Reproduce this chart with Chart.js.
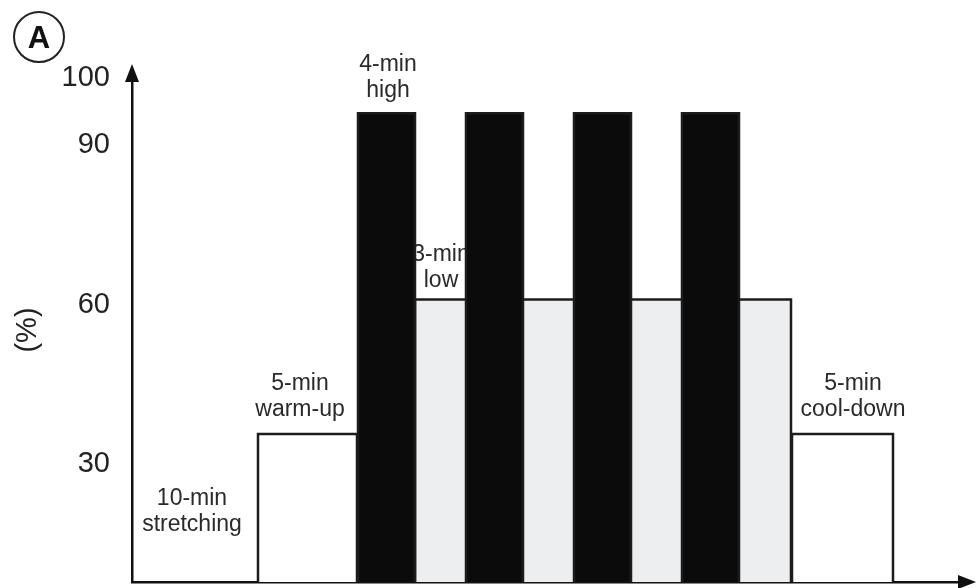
<!DOCTYPE html>
<html>
<head>
<meta charset="utf-8">
<script src="https://cdn.jsdelivr.net/npm/chart.js@4/dist/chart.umd.min.js"></script>
<style>
    html, body { margin: 0; padding: 0; background: #fff; overflow: hidden; }
    canvas { display: block; }
</style>
</head>
<body>
<canvas id="chart" width="976" height="588"></canvas>
<script>
// Schematic exercise protocol: x in arbitrary time units, y in %
const yMin = 7.9;
const yMax = 102.6;
const xMax = 83;

// tick values on the y axis (the top one sits at the arrow, labelled 100)
const yTickValues = [30, 60, 90, 102.6];
const yTickLabels = ['30', '60', '90', '100'];

const warmUpX = [12.6, 22.5];
const warmUpLevel = 35.7;

const highStarts = [22.6, 33.4, 44.2, 55.0];
const highEnds = [28.3, 39.1, 49.9, 60.7];
const highLevel = 96;

const lowX = [28.3, 65.9];
const lowLevel = 61;

const coolDownX = [66.0, 76.1];
const coolDownLevel = 35.7;

// phase labels: text lines and centre in data units
const phaseLabels = [
    { lines: ['10-min', 'stretching'], x: 6.0, y: 21.1 },
    { lines: ['5-min', 'warm-up'], x: 16.8, y: 42.8 },
    { lines: ['4-min', 'high'], x: 25.6, y: 102.7 },
    { lines: ['3-min', 'low'], x: 30.9, y: 67.0 },
    { lines: ['5-min', 'cool-down'], x: 72.1, y: 42.8 }
];

const FONT = "'Liberation Sans', Arial, sans-serif";

// rectangle outline for one phase, drawn through the scales
function block(x0, x1, level) {
    return [
        { x: x0, y: yMin },
        { x: x0, y: level },
        { x: x1, y: level },
        { x: x1, y: yMin }
    ];
}

function blockDataset(points, fillColor, order) {
    return {
        data: points,
        fill: 'start',
        backgroundColor: fillColor,
        borderColor: '#1c1c1c',
        borderWidth: 2.5,
        borderJoinStyle: 'miter',
        pointRadius: 0,
        tension: 0,
        order: order
    };
}

const datasets = [];
datasets.push(blockDataset(block(lowX[0], lowX[1], lowLevel), '#eceef0', 2));
datasets.push(blockDataset(block(warmUpX[0], warmUpX[1], warmUpLevel), '#ffffff', 1));
datasets.push(blockDataset(block(coolDownX[0], coolDownX[1], coolDownLevel), '#ffffff', 1));
highStarts.forEach((s, i) => {
    datasets.push(blockDataset(block(s, highEnds[i], highLevel), '#0b0b0b', 0));
});

// labels go under the bars (the 3-min label is partly hidden in the original)
const labelPlugin = {
    id: 'phaseLabels',
    beforeDatasetsDraw(chart) {
        const ctx = chart.ctx;
        const xs = chart.scales.x;
        const ys = chart.scales.y;
        ctx.save();
        ctx.fillStyle = '#2a2a2a';
        ctx.font = '23px ' + FONT;
        ctx.textAlign = 'center';
        ctx.textBaseline = 'middle';
        phaseLabels.forEach(lbl => {
            const cx = xs.getPixelForValue(lbl.x);
            const cy = ys.getPixelForValue(lbl.y);
            const lh = 26;
            lbl.lines.forEach((line, i) => {
                ctx.fillText(line, cx, cy + (i - (lbl.lines.length - 1) / 2) * lh);
            });
        });
        ctx.restore();
    },
    afterDraw(chart) {
        const ctx = chart.ctx;
        const area = chart.chartArea;
        ctx.save();
        ctx.fillStyle = '#111';
        // y axis arrow head
        ctx.beginPath();
        ctx.moveTo(area.left, area.top - 14);
        ctx.lineTo(area.left - 7, area.top + 4);
        ctx.lineTo(area.left + 7, area.top + 4);
        ctx.closePath();
        ctx.fill();
        // x axis arrow head
        ctx.beginPath();
        ctx.moveTo(area.right + 14, area.bottom);
        ctx.lineTo(area.right - 4, area.bottom - 7);
        ctx.lineTo(area.right - 4, area.bottom + 7);
        ctx.closePath();
        ctx.fill();
        // panel letter
        ctx.strokeStyle = '#222';
        ctx.lineWidth = 2;
        ctx.beginPath();
        ctx.arc(39, 37, 25, 0, Math.PI * 2);
        ctx.stroke();
        ctx.fillStyle = '#111';
        ctx.font = 'bold 31px ' + FONT;
        ctx.textAlign = 'center';
        ctx.textBaseline = 'middle';
        ctx.fillText('A', 39, 39);
        ctx.restore();
    }
};

new Chart(document.getElementById('chart'), {
    type: 'line',
    data: { datasets: datasets },
    options: {
        responsive: false,
        animation: false,
        events: [],
        layout: { padding: { top: 78, right: 14, left: 0, bottom: 0 } },
        plugins: {
            legend: { display: false },
            tooltip: { enabled: false }
        },
        scales: {
            x: {
                type: 'linear',
                min: 0,
                max: xMax,
                grid: { display: false, drawTicks: false },
                border: { display: true, color: '#111', width: 2.5 },
                ticks: { display: false },
                afterFit(scale) { scale.height = 6; }
            },
            y: {
                type: 'linear',
                min: yMin,
                max: yMax,
                grid: { display: false, drawTicks: false },
                border: { display: true, color: '#111', width: 2.5 },
                afterBuildTicks(scale) {
                    scale.ticks = yTickValues.map(v => ({ value: v }));
                },
                afterFit(scale) {
                    scale.width = 132;
                    // labels do not sit at the ends, so no extra padding
                    scale.paddingTop = 0;
                    scale.paddingBottom = 0;
                },
                ticks: {
                    autoSkip: false,
                    padding: 22,
                    color: '#222',
                    font: { family: FONT, size: 29 },
                    callback: (v, i) => yTickLabels[i]
                },
                title: {
                    display: true,
                    text: '(%)',
                    color: '#222',
                    font: { family: FONT, size: 29 },
                    padding: { top: 11, bottom: 0 }
                }
            }
        }
    },
    plugins: [labelPlugin]
});
</script>
</body>
</html>
